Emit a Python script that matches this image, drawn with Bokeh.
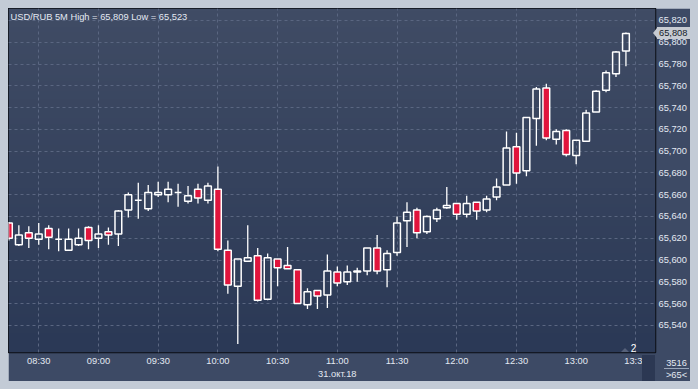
import numpy as np
from bokeh.plotting import figure
from bokeh.models import (Range1d, LinearAxis, FixedTicker, CustomJSTickFormatter,
                          Label, ColumnDataSource, Grid)
from bokeh.models.dom import Div as DOMDiv
from bokeh.embed import file_html
from bokeh.resources import INLINE

# ---- data (USD/RUB, 5-minute candles, 31.10.2018, 08:15 .. 13:25) ----
opens = [65.634, 65.614, 65.625, 65.619, 65.629, 65.619, 65.609, 65.614, 65.630, 65.620,
         65.626, 65.624, 65.646, 65.655, 65.647, 65.660, 65.660, 65.662, 65.654, 65.665,
         65.655, 65.665, 65.609, 65.576, 65.599, 65.604, 65.564, 65.601, 65.595, 65.591,
         65.559, 65.572, 65.568, 65.589, 65.580, 65.590, 65.590, 65.611, 65.591, 65.607,
         65.636, 65.646, 65.626, 65.638, 65.648, 65.652, 65.642, 65.653, 65.646, 65.658,
         65.669, 65.704, 65.682, 65.730, 65.758, 65.711, 65.719, 65.696, 65.709, 65.736,
         65.756, 65.771, 65.792]
highs = [65.635, 65.632, 65.631, 65.634, 65.632, 65.629, 65.629, 65.629, 65.631, 65.632,
         65.630, 65.646, 65.662, 65.671, 65.669, 65.672, 65.672, 65.670, 65.668, 65.670,
         65.671, 65.686, 65.618, 65.601, 65.632, 65.611, 65.606, 65.601, 65.612, 65.591,
         65.574, 65.572, 65.605, 65.594, 65.595, 65.593, 65.611, 65.623, 65.609, 65.640,
         65.653, 65.648, 65.641, 65.648, 65.667, 65.652, 65.659, 65.653, 65.659, 65.675,
         65.718, 65.717, 65.731, 65.759, 65.762, 65.720, 65.720, 65.710, 65.738, 65.756,
         65.774, 65.792, 65.809]
lows = [65.618, 65.613, 65.611, 65.614, 65.610, 65.608, 65.609, 65.613, 65.610, 65.611,
        65.614, 65.613, 65.639, 65.638, 65.645, 65.658, 65.653, 65.649, 65.652, 65.652,
        65.652, 65.608, 65.569, 65.523, 65.599, 65.562, 65.563, 65.576, 65.592, 65.560,
        65.555, 65.555, 65.556, 65.576, 65.577, 65.580, 65.586, 65.587, 65.575, 65.604,
        65.612, 65.620, 65.624, 65.635, 65.647, 65.637, 65.639, 65.637, 65.644, 65.655,
        65.669, 65.670, 65.677, 65.705, 65.710, 65.706, 65.695, 65.688, 65.709, 65.736,
        65.754, 65.768, 65.778]
closes = [65.620, 65.623, 65.620, 65.624, 65.621, 65.619, 65.619, 65.620, 65.618, 65.624,
          65.623, 65.645, 65.660, 65.655, 65.662, 65.662, 65.665, 65.662, 65.659, 65.657,
          65.668, 65.610, 65.577, 65.601, 65.602, 65.563, 65.602, 65.593, 65.592, 65.560,
          65.571, 65.567, 65.590, 65.579, 65.589, 65.589, 65.611, 65.590, 65.606, 65.634,
          65.644, 65.625, 65.640, 65.646, 65.650, 65.642, 65.652, 65.645, 65.656, 65.667,
          65.703, 65.680, 65.731, 65.757, 65.712, 65.718, 65.697, 65.710, 65.735, 65.755,
          65.772, 65.791, 65.808]

time_tick_index = [3, 9, 15, 21, 27, 33, 39, 45, 51, 57, 63]
time_tick_labels = ["08:30", "09:00", "09:30", "10:00", "10:30", "11:00",
                    "11:30", "12:00", "12:30", "13:00", "13:30"]
date_tick_index = [33]
date_tick_labels = ["31.окт.18"]
price_ticks = [65.54, 65.56, 65.58, 65.60, 65.62, 65.64, 65.66, 65.68,
               65.70, 65.72, 65.74, 65.76, 65.78, 65.80, 65.82]
symbol = "USD/RUB 5M"
volume_text = "3516"
scale_text = ">65<"
pane_count = "2"

# ---- styles ----
FONT = "Liberation Sans"
FS = "9.3px"
TXT = "#e3e9f2"
RED = "#e0143c"
GRID = "#5a6681"
X0, X1 = -0.04, 64.97
Y0, Y1 = 65.5151, 65.8310

o = np.array(opens); h = np.array(highs); l = np.array(lows); c = np.array(closes)
idx = np.arange(len(o))
body_top = np.maximum(o, c)
body_bot = np.minimum(o, c)
down = c < o

src = ColumnDataSource(dict(x=idx, top=body_top, bottom=body_bot, high=h, low=l,
                            alpha=np.where(down, 1.0, 0.0)))

p = figure(width=682, height=373, output_backend="svg", toolbar_location=None,
           x_range=Range1d(X0, X1), y_range=Range1d(Y0, Y1),
           x_axis_location=None, y_axis_location=None,
           min_border_left=0, min_border_top=0, min_border_right=35, min_border_bottom=27)
p.renderers = []
p.center = [r for r in p.center if not isinstance(r, Grid)]
p.border_fill_color = "#3d4a65"
p.background_fill_color = "#34405b"
p.outline_line_color = "#0b0e14"
p.outline_line_width = 1.5

# vertical gradient background of the plot area
N = 128
img = np.empty((N, 1), dtype=np.uint32)
view = img.view(dtype=np.uint8).reshape((N, 1, 4))
bot_rgb = np.array([0x2b, 0x39, 0x56]); top_rgb = np.array([0x40, 0x4c, 0x65])
for i in range(N):
    t = i / (N - 1)
    view[i, 0, 0:3] = (bot_rgb * (1 - t) + top_rgb * t).astype(np.uint8)
    view[i, 0, 3] = 255
p.image_rgba(image=[img], x=X0, y=Y0, dw=X1 - X0, dh=Y1 - Y0, level="image")

# axes
yax = LinearAxis(ticker=FixedTicker(ticks=price_ticks),
                 formatter=CustomJSTickFormatter(code="return tick.toFixed(3).replace('.', ',')"))
xax = LinearAxis(ticker=FixedTicker(ticks=time_tick_index),
                 major_label_overrides=dict(zip(time_tick_index, time_tick_labels)))
xax2 = LinearAxis(ticker=FixedTicker(ticks=date_tick_index),
                  major_label_overrides=dict(zip(date_tick_index, date_tick_labels)))
for ax, standoff in ((yax, 3), (xax, 3), (xax2, 0)):
    ax.axis_line_color = None
    ax.major_tick_line_color = None
    ax.minor_tick_line_color = None
    ax.major_tick_out = 0
    ax.major_tick_in = 0
    ax.minor_tick_out = 0
    ax.minor_tick_in = 0
    ax.major_label_text_color = TXT
    ax.major_label_text_font = FONT
    ax.major_label_text_font_size = FS
    ax.major_label_standoff = standoff
p.add_layout(yax, "right")
p.add_layout(xax, "below")
p.add_layout(xax2, "below")

for dim, tk in ((0, xax.ticker), (1, yax.ticker)):
    p.add_layout(Grid(dimension=dim, ticker=tk, grid_line_color=GRID,
                      grid_line_dash="3 3", grid_line_width=1))

# candles
p.segment(x0="x", y0="top", x1="x", y1="high", source=src, line_color="white", line_width=1.3)
p.segment(x0="x", y0="low", x1="x", y1="bottom", source=src, line_color="white", line_width=1.3)
p.vbar(x="x", width=0.68, top="top", bottom="bottom", source=src,
       fill_color=RED, fill_alpha="alpha", line_color="white", line_width=1.5)

# texts
def fmt(v):
    return f"{v:.3f}".replace(".", ",")

title = f"{symbol} High = {fmt(max(highs))} Low = {fmt(min(lows))}"
p.add_layout(Label(x=2, y=335.7, x_units="screen", y_units="screen", text=title,
                   text_font=FONT, text_font_size=FS, text_color=TXT,
                   text_baseline="alphabetic"))
p.add_layout(Label(x=625, y=5, x_units="screen", y_units="screen", text=pane_count,
                   text_font=FONT, text_font_size="10px", text_color="white",
                   text_baseline="middle", text_align="center"))

# small HTML overlays placed outside the plotting frame (price tag, corner box, frame arrows)
base = {"position": "absolute", "font-family": FONT, "font-size": FS,
        "line-height": "11px", "white-space": "nowrap", "pointer-events": "none"}

def css(**kw):
    d = dict(base)
    d.update({k.replace("_", "-"): v for k, v in kw.items()})
    return d

overlays = [
    # price tag on the right axis
    DOMDiv(style=css(left="645px", top="20px", width="0px", height="0px",
                     border_top="5px solid transparent", border_bottom="5px solid transparent",
                     border_right="4px solid #c7cbd2")),
    DOMDiv(style=css(left="649px", top="19px", width="33px", height="12px",
                     background="#c7cbd2", color="#151b28", padding_left="2px",
                     box_sizing="border-box", line_height="12px"),
           children=[fmt(closes[-1])]),
    # scroll thumb in the corner
    DOMDiv(style=css(left="634px", top="347px", width="13px", height="26px",
                     background="#2c3853")),
    # corner box
    DOMDiv(style=css(left="656px", top="350px", width="25px", height="11px",
                     color=TXT, text_align="center", border_bottom="1px solid #9aa6ba"),
           children=[volume_text]),
    DOMDiv(style=css(left="656px", top="362px", width="25px", height="11px",
                     color=TXT, text_align="center"),
           children=[scale_text]),
    # small marker next to the pane counter
    DOMDiv(style=css(left="613px", top="340px", width="0px", height="0px",
                     border_left="4px solid transparent", border_right="4px solid transparent",
                     border_bottom="4px solid #56617a")),
    # arrows in the outer frame
    DOMDiv(style=css(left="337px", top="-7px", width="0px", height="0px",
                     border_left="4px solid transparent", border_right="4px solid transparent",
                     border_top="5px solid #1b2230")),
    DOMDiv(style=css(left="-7px", top="180px", width="0px", height="0px",
                     border_top="5px solid transparent", border_bottom="5px solid transparent",
                     border_left="5px solid #1b2230")),
    DOMDiv(style=css(left="339px", top="376px", width="0px", height="0px",
                     border_left="5px solid transparent", border_right="5px solid transparent",
                     border_bottom="5px solid #1b2230")),
]
p.elements = overlays

html = file_html(p, INLINE, title="USD/RUB 5M")
html = html.replace("</head>",
                    "<style>html,body{height:auto!important;}"
                    "body{margin:8px!important;background:#c3cbd6;}</style></head>", 1)
open("out.html", "w").write(html)
